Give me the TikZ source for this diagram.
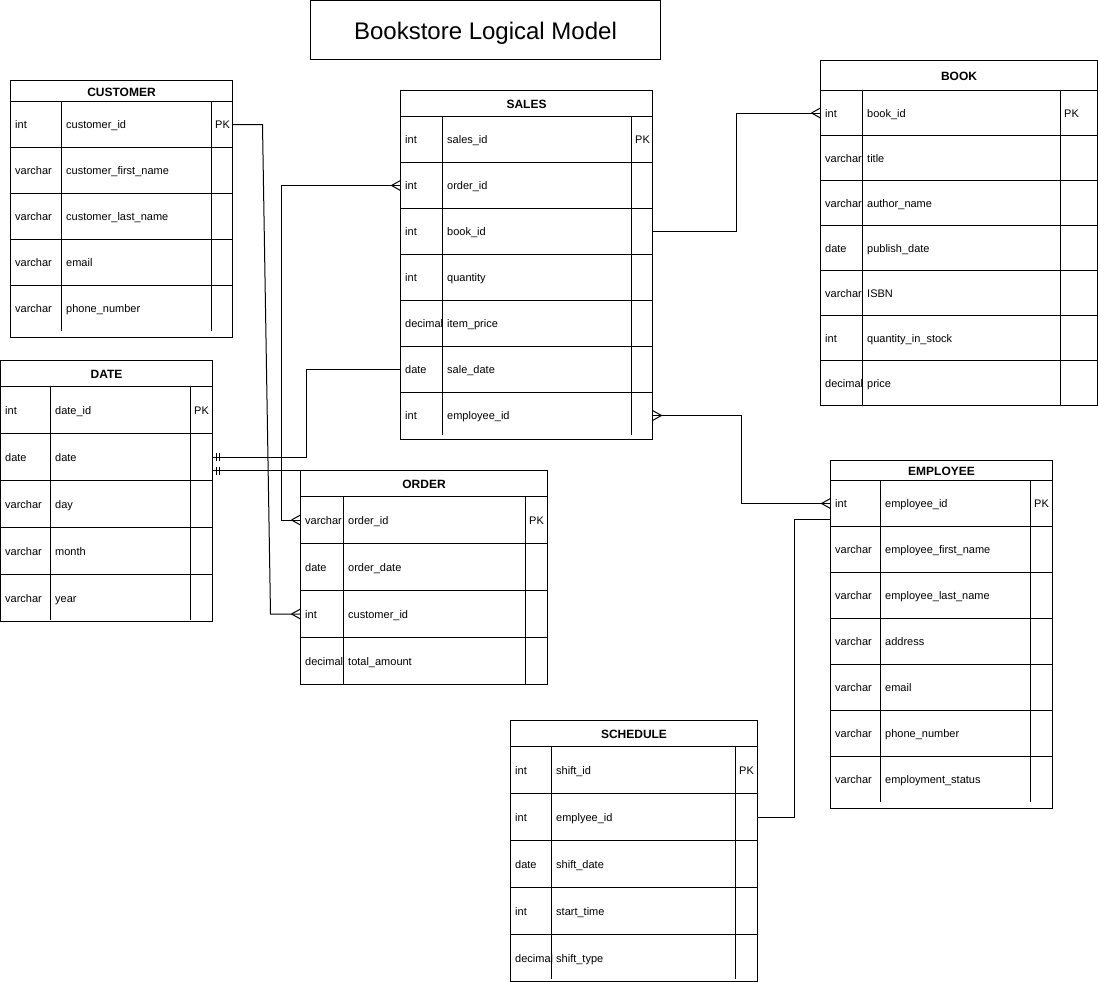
\documentclass[tikz,border=0pt]{standalone}
\usepackage{fontspec}
\setmainfont{Liberation Sans}
\usetikzlibrary{calc}
\pgfkeys{/er/.is family}
\pgfkeys{/er/.cd,
 left/.store in=\erL, top/.store in=\erT, right/.store in=\erR, head/.store in=\erH,
 row/.store in=\erRH, colA/.store in=\erA, colB/.store in=\erB, bottom/.store in=\erBot,
 divend/.store in=\erDE}
\tikzset{
 erbox/.style={draw=black, fill=white, line width=1pt, inner sep=0pt, outer sep=0pt},
 errow/.style={inner sep=0pt, outer sep=0pt},
 erline/.style={draw=black, line width=1pt},
 ertitle/.style={inner sep=0pt, anchor=base, font=\fontsize{12}{14}\selectfont\bfseries},
 ertext/.style={inner sep=0pt, anchor=base west, font=\fontsize{11}{13}\selectfont},
 conn/.style={draw=black, line width=1pt},
 titlebox/.style={draw=black, line width=1pt, inner sep=0pt, outer sep=0pt},
 titletext/.style={inner sep=0pt, anchor=base, font=\fontsize{24}{28}\selectfont}
}
\newcommand\ertable[4]{%
 \pgfkeys{/er/.cd,#1}%
 \pgfmathsetmacro\erW{\erR-\erL}%
 \pgfmathsetmacro\erHt{\erBot-\erT}%
 \node[erbox, minimum width=\erW pt, minimum height=\erHt pt, anchor=north west] (#2) at (\erL,\erT) {};
 \pgfmathsetmacro\erHc{(\erT+\erH)/2+5}%
 \pgfmathsetmacro\erMid{(\erL+\erR)/2}%
 \node[ertitle] (#2-title) at (\erMid,\erHc) {#3};
 \foreach \ty/\nm [count=\k] in {#4} {
   \pgfmathsetmacro\ry{\erH+(\k-1)*\erRH}
   \pgfmathsetmacro\rc{\erH+(\k-0.5)*\erRH+4.3}
   \node[errow, minimum width=\erW pt, minimum height=\erRH pt, anchor=north west] (#2-\k) at (\erL,\ry) {};
   \draw[erline] (#2-\k.north west) -- (#2-\k.north east);
   \node[ertext] (#2-\k-t) at (\erL+4.5,\rc) {\ty};
   \node[ertext] (#2-\k-n) at (\erA+4.5,\rc) {\nm};
 }
 \pgfmathsetmacro\erPK{\erH+\erRH/2+4.3}%
 \node[ertext] (#2-pk) at (\erB+3.5,\erPK) {PK};
 \draw[erline] (\erA,\erH) -- (\erA,\erDE);
 \draw[erline] (\erB,\erH) -- (\erB,\erDE);
}
\newcommand\crowW[1]{\draw[conn] ([xshift=-9pt]#1) -- ([yshift=5pt]#1) ([xshift=-9pt]#1) -- ([yshift=-5pt]#1);}
\newcommand\crowE[1]{\draw[conn] ([xshift=9pt]#1) -- ([yshift=5pt]#1) ([xshift=9pt]#1) -- ([yshift=-5pt]#1);}
\newcommand\barsE[1]{\draw[conn] ([xshift=4pt,yshift=4pt]#1) -- ([xshift=4pt,yshift=-4pt]#1) ([xshift=7pt,yshift=4pt]#1) -- ([xshift=7pt,yshift=-4pt]#1);}
\begin{document}
\begin{tikzpicture}[x=1pt,y=-1pt]
\useasboundingbox (0,0) rectangle (1098,982);
\fill[white] (0,0) rectangle (1098,982);
\node[titlebox, minimum width=349.5pt, minimum height=59.5pt, anchor=north west] (title) at (310.5,0.5) {};
\node[titletext] (titletxt) at (485.5,39.5) {Bookstore Logical Model};

\ertable{left=10.5,top=80.5,right=232.5,head=101.5,row=46,colA=61.5,colB=211.5,bottom=337.5,divend=331}{cust}{CUSTOMER}
 {int/customer\_id, varchar/customer\_first\_name, varchar/customer\_last\_name, varchar/email, varchar/phone\_number}

\ertable{left=0.5,top=360.5,right=212.5,head=386.5,row=47,colA=50.5,colB=190.5,bottom=621.5,divend=620}{date}{DATE}
 {int/date\_id, date/date, varchar/day, varchar/month, varchar/year}

\ertable{left=400.5,top=90.5,right=652.5,head=116.5,row=46,colA=442.5,colB=631.5,bottom=439.5,divend=435}{sales}{SALES}
 {int/sales\_id, int/order\_id, int/book\_id, int/quantity, decimal/item\_price, date/sale\_date, int/employee\_id}

\ertable{left=820.5,top=60.5,right=1097.5,head=90.5,row=45,colA=862.5,colB=1060.5,bottom=405.5,divend=405}{book}{BOOK}
 {int/book\_id, varchar/title, varchar/author\_name, date/publish\_date, varchar/ISBN, int/quantity\_in\_stock, decimal/price}

\ertable{left=830.5,top=460.5,right=1052.5,head=480.5,row=46,colA=880.5,colB=1030.5,bottom=808.5,divend=802}{emp}{EMPLOYEE}
 {int/employee\_id, varchar/employee\_first\_name, varchar/employee\_last\_name, varchar/address, varchar/email, varchar/phone\_number, varchar/employment\_status}

\ertable{left=300.5,top=470.5,right=547.5,head=496.5,row=47,colA=343.5,colB=525.5,bottom=684.5,divend=684}{order}{ORDER}
 {varchar/order\_id, date/order\_date, int/customer\_id, decimal/total\_amount}

\ertable{left=510.5,top=720.5,right=757.5,head=746.5,row=47,colA=551.5,colB=735.5,bottom=981.5,divend=979}{sched}{SCHEDULE}
 {int/shift\_id, int/emplyee\_id, date/shift\_date, int/start\_time, decimal/shift\_type}

% connectors
\draw[conn] (cust-1.east) -- ++(30,0) -- ([xshift=-30pt]order-3.west) -- (order-3.west);
\crowW{order-3.west}

\draw[conn] (sales-2.west) -- ++(-119,0) |- (order-1.west);
\crowW{sales-2.west}
\crowW{order-1.west}

\draw[conn] (date-2.east) -- ++(94,0) |- (sales-6.west);
\barsE{date-2.east}

\coordinate (dateo) at (date-2.east |- order.north west);
\draw[conn] (dateo) -- (order.north west);
\barsE{dateo}

\draw[conn] (sales-3.east) -- ++(84,0) |- (book-1.west);
\crowW{book-1.west}

\draw[conn] (sales-7.east) -- ++(89,0) |- (emp-1.west);
\crowE{sales-7.east}
\crowW{emp-1.west}

\coordinate (empb) at ([yshift=-16pt]emp-1.west);
\draw[conn] (sched-2.east) -- ++(37,0) |- (empb);
\end{tikzpicture}
\end{document}
